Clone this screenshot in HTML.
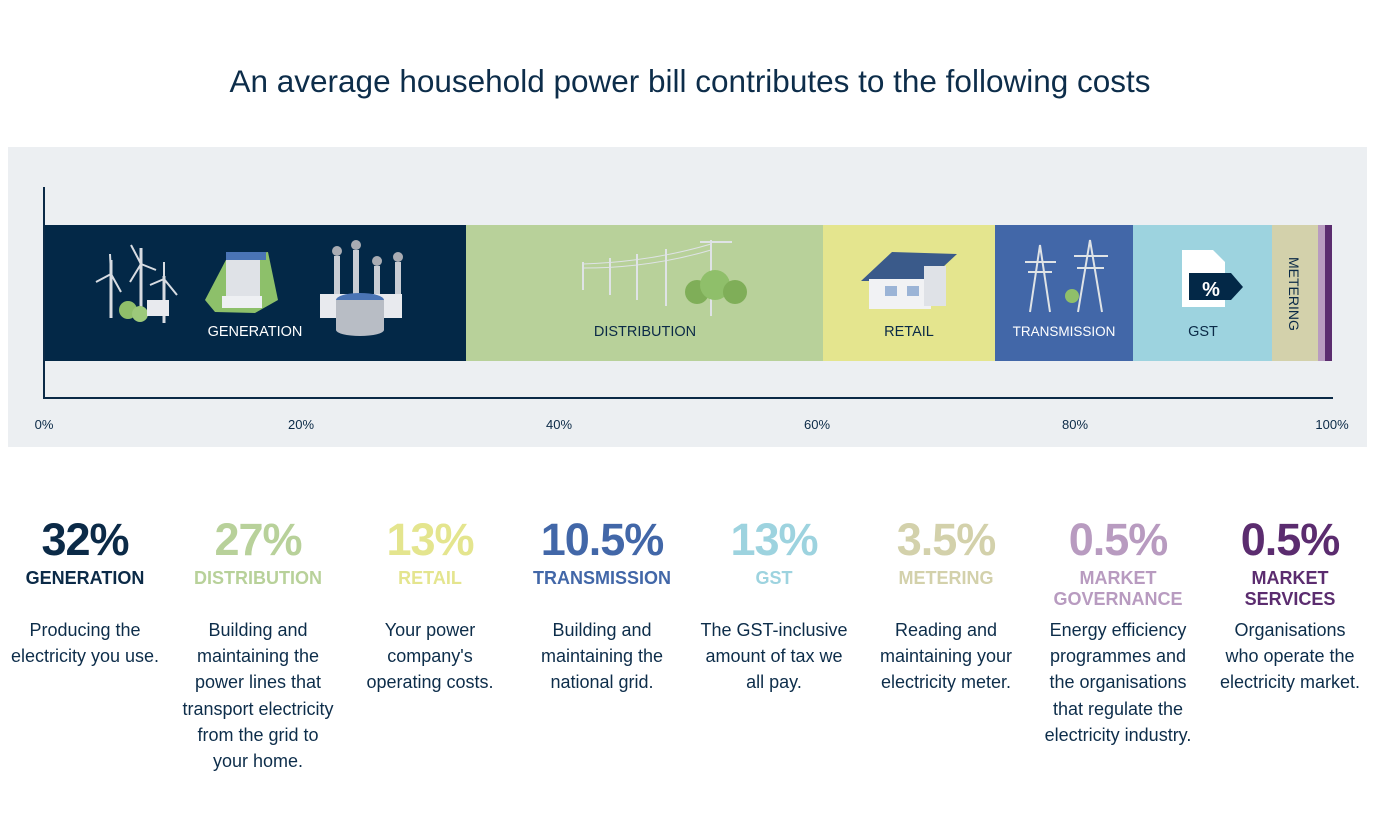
<!DOCTYPE html>
<html><head><meta charset="utf-8"><style>
*{margin:0;padding:0;box-sizing:border-box}
body{width:1380px;height:839px;background:#fff;position:relative;overflow:hidden;font-family:"Liberation Sans Narrow","Liberation Sans",sans-serif;color:#0b2a47}
.abs{position:absolute}
.title{left:0;width:1380px;top:63px;text-align:center;font-size:31.5px;color:#0d2d4a}
.panel{left:8px;top:147px;width:1359px;height:300px;background:#eceff2}
.seg{position:absolute;top:225px;height:136px}
.lbl{position:absolute;font-size:14.5px;text-align:center;width:200px}
.tick{position:absolute;top:417px;font-size:13px;width:60px;text-align:center}
.col{position:absolute;top:512px;width:172px;height:300px;text-align:center}
.num{font-size:45px;font-weight:bold;line-height:56px;letter-spacing:-1px}
.cat{font-size:18px;font-weight:bold;line-height:21px}
.desc{position:absolute;left:-10px;width:192px;top:105px;font-size:18px;line-height:26.2px;color:#0d2d4a}
</style></head><body>
<div class="abs title">An average household power bill contributes to the following costs</div>
<div class="abs panel"></div>
<div class="abs" style="left:43px;top:187px;width:2px;height:212px;background:#0b2a47"></div>
<div class="abs" style="left:43px;top:397px;width:1290px;height:2px;background:#0b2a47"></div>
<div class="seg" style="left:45px;width:421px;background:#032847"></div>
<div class="seg" style="left:466px;width:357px;background:#b8d19a"></div>
<div class="seg" style="left:823px;width:172px;background:#e4e58e"></div>
<div class="seg" style="left:995px;width:138px;background:#4267a8"></div>
<div class="seg" style="left:1133px;width:139px;background:#9dd3df"></div>
<div class="seg" style="left:1272px;width:46px;background:#d3d1ab"></div>
<div class="seg" style="left:1318px;width:7px;background:#b89bc0"></div>
<div class="seg" style="left:1325px;width:7px;background:#5b2c6f"></div>
<svg class="abs" style="left:0;top:0" width="1380" height="839">
<g stroke="#d8dce2" stroke-width="3" fill="none">
<line x1="111" y1="260" x2="111" y2="318"/><line x1="141" y1="248" x2="141" y2="318"/><line x1="164" y1="276" x2="164" y2="323"/>
<path d="M111 274 L96 282 M111 274 L121 292 M111 274 L110 254" stroke-width="2"/>
<path d="M141 264 L131 245 M141 264 L156 270 M141 264 L130 282" stroke-width="2"/>
<path d="M164 279 L150 285 M164 279 L177 295 M164 279 L164 262" stroke-width="2"/>
</g>
<circle cx="128" cy="310" r="9" fill="#8fbf6a"/><circle cx="140" cy="314" r="8" fill="#9cc97a"/>
<rect x="147" y="300" width="22" height="16" fill="#e8eaee"/>
<path d="M205 300 L228 256 L268 252 L278 300 L255 313 L215 312Z" fill="#8dc06a"/>
<rect x="226" y="258" width="34" height="42" fill="#dfe2e7"/><rect x="226" y="252" width="40" height="8" fill="#4a74b5"/>
<rect x="222" y="296" width="40" height="12" fill="#eef0f3"/>
<g fill="#c9cdd4"><rect x="334" y="256" width="6" height="60"/><rect x="353" y="250" width="6" height="60"/><rect x="374" y="266" width="6" height="55"/><rect x="395" y="262" width="6" height="55"/></g>
<g fill="#a9acb3"><circle cx="337" cy="251" r="5"/><circle cx="356" cy="245" r="5"/><circle cx="377" cy="261" r="5"/><circle cx="398" cy="257" r="5"/></g>
<rect x="320" y="294" width="82" height="24" fill="#e8eaee"/>
<ellipse cx="360" cy="300" rx="24" ry="7" fill="#4a74b5"/><rect x="336" y="300" width="48" height="30" fill="#b8bdc5"/><ellipse cx="360" cy="330" rx="24" ry="6" fill="#b8bdc5"/>
<g stroke="#dfe3e6" stroke-width="2" fill="none">
<line x1="583" y1="262" x2="583" y2="290"/><line x1="610" y1="258" x2="610" y2="295"/><line x1="637" y1="254" x2="637" y2="300"/><line x1="666" y1="249" x2="666" y2="306"/><line x1="711" y1="240" x2="711" y2="316"/>
<path d="M583 264 Q650 262 711 244 M583 268 Q650 268 711 250" stroke-width="1"/>
<line x1="700" y1="242" x2="732" y2="242"/>
</g>
<circle cx="697" cy="292" r="12" fill="#7fae58"/><circle cx="715" cy="285" r="15" fill="#8fbf6a"/><circle cx="735" cy="292" r="12" fill="#7fae58"/>
<path d="M861 281 L892 252 L957 254 L928 281Z" fill="#3a5a8a"/>
<rect x="869" y="279" width="62" height="30" fill="#f1f2f4"/><rect x="924" y="266" width="22" height="40" fill="#dfe2e7"/>
<rect x="885" y="286" width="12" height="10" fill="#9bb4d6"/><rect x="907" y="286" width="12" height="10" fill="#9bb4d6"/>
<g stroke="#dfe3e6" stroke-width="2" fill="none">
<path d="M1030 312 L1040 245 L1050 312 M1025 262 L1056 262 M1028 272 L1052 272"/>
<path d="M1078 312 L1090 240 L1102 312 M1074 256 L1108 256 M1077 268 L1104 268"/>
</g>
<circle cx="1072" cy="296" r="7" fill="#8fbf6a"/>
<path d="M1182 250 L1213 250 L1225 262 L1225 307 L1182 307Z" fill="#fff"/>
<path d="M1189 273 L1231 273 L1243 287 L1231 300 L1189 300Z" fill="#032847"/>
<text x="1211" y="296" font-family="Liberation Sans" font-weight="bold" font-size="20" fill="#fff" text-anchor="middle">%</text>
</svg>
<div class="lbl" style="left:155px;top:324px;color:#fff">GENERATION</div>
<div class="lbl" style="left:545px;top:324px">DISTRIBUTION</div>
<div class="lbl" style="left:809px;top:324px">RETAIL</div>
<div class="lbl" style="left:964px;top:324px;color:#fff;font-size:13.5px">TRANSMISSION</div>
<div class="lbl" style="left:1103px;top:324px">GST</div>
<div class="abs" style="left:1286px;top:257px;font-size:14px;writing-mode:vertical-rl">METERING</div>
<div class="tick" style="left:14px">0%</div><div class="tick" style="left:271px">20%</div><div class="tick" style="left:529px">40%</div><div class="tick" style="left:787px">60%</div><div class="tick" style="left:1045px">80%</div><div class="tick" style="left:1302px">100%</div>

<div class="col" style="left:-1px"><div class="num" style="color:#0b2a47">32%</div><div class="cat" style="color:#0b2a47">GENERATION</div><div class="desc">Producing the<br>electricity you use.</div></div>
<div class="col" style="left:172px"><div class="num" style="color:#b8d19a">27%</div><div class="cat" style="color:#b8d19a">DISTRIBUTION</div><div class="desc">Building and<br>maintaining the<br>power lines that<br>transport electricity<br>from the grid to<br>your home.</div></div>
<div class="col" style="left:344px"><div class="num" style="color:#e4e58e">13%</div><div class="cat" style="color:#e4e58e">RETAIL</div><div class="desc">Your power<br>company's<br>operating costs.</div></div>
<div class="col" style="left:516px"><div class="num" style="color:#4267a8">10.5%</div><div class="cat" style="color:#4267a8">TRANSMISSION</div><div class="desc">Building and<br>maintaining the<br>national grid.</div></div>
<div class="col" style="left:688px"><div class="num" style="color:#9dd3df">13%</div><div class="cat" style="color:#9dd3df">GST</div><div class="desc">The GST-inclusive<br>amount of tax we<br>all pay.</div></div>
<div class="col" style="left:860px"><div class="num" style="color:#d3d1ab">3.5%</div><div class="cat" style="color:#d3d1ab">METERING</div><div class="desc">Reading and<br>maintaining your<br>electricity meter.</div></div>
<div class="col" style="left:1032px"><div class="num" style="color:#b89bc0">0.5%</div><div class="cat" style="color:#b89bc0">MARKET<br>GOVERNANCE</div><div class="desc">Energy efficiency<br>programmes and<br>the organisations<br>that regulate the<br>electricity industry.</div></div>
<div class="col" style="left:1204px"><div class="num" style="color:#5b2c6f">0.5%</div><div class="cat" style="color:#5b2c6f">MARKET<br>SERVICES</div><div class="desc">Organisations<br>who operate the<br>electricity market.</div></div>
</body></html>
